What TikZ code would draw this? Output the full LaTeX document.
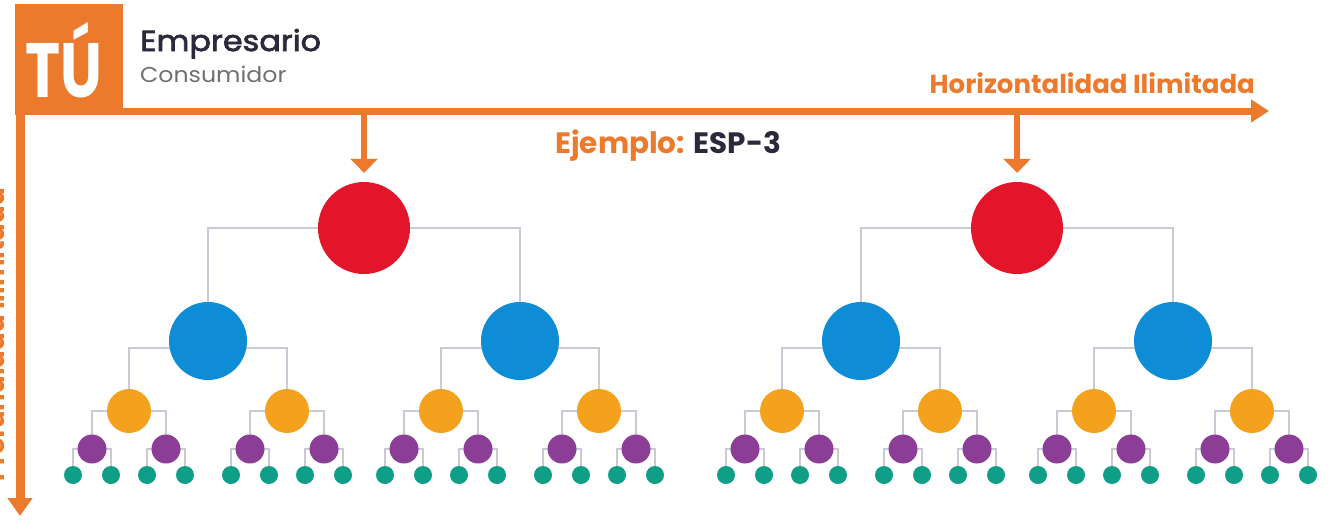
\documentclass[tikz,border=0pt]{standalone}
\usepackage{fontspec}
\setmainfont{Poppins}
\newfontfamily\popmed{Poppins}[FakeBold=2.5, FakeStretch=1.1]
\newfontfamily\popwide{Poppins}[FakeStretch=1.1]
\usetikzlibrary{arrows.meta}
\pgfdeclarelayer{back}
\pgfdeclarelayer{bg}
\pgfsetlayers{back,bg,main}
\definecolor{tuorange}{HTML}{EC7A2D}
\definecolor{navy}{HTML}{2A2A3C}
\definecolor{graytext}{HTML}{707074}
\definecolor{cred}{HTML}{E3152B}
\definecolor{cblue}{HTML}{0E8CD5}
\definecolor{cyell}{HTML}{F4A11D}
\definecolor{cpurp}{HTML}{8C3E97}
\definecolor{cteal}{HTML}{0F9F89}
\definecolor{conncol}{HTML}{CACAD5}
\tikzset{
  dot/.style={circle, inner sep=0pt, draw=none},
  rootc/.style={dot, fill=cred, minimum size=92pt},
  bluec/.style={dot, fill=cblue, minimum size=78pt},
  yellc/.style={dot, fill=cyell, minimum size=44pt},
  purpc/.style={dot, fill=cpurp, minimum size=29pt},
  tealc/.style={dot, fill=cteal, minimum size=18pt},
  conn/.style={draw=conncol, line width=#1},
  axisline/.style={draw=tuorange, line width=7pt, -{Triangle[length=18pt,width=22pt]}},
  droparrow/.style={draw=tuorange, line width=5.5pt, -{Triangle[length=14pt,width=27pt]}},
  boldlabel/.style={font=\bfseries\fontsize{26}{30}\selectfont, text=tuorange, inner sep=0pt},
}
\begin{document}
\begin{tikzpicture}[x=1pt,y=-1pt]
\useasboundingbox (0,0) rectangle (1331,528);
\begin{pgfonlayer}{back}
\fill[white] (0,0) rectangle (1331,528);
\end{pgfonlayer}
% TU box
\node[fill=tuorange, minimum width=108pt, minimum height=108pt, inner sep=0pt, anchor=north west] (tu) at (15,4) {};
\node[anchor=base west, inner sep=0pt, text=white, font=\bfseries\fontsize{77}{77}\selectfont] (tutext) at (25,97) {\scalebox{0.77}[1]{TÚ}};
\node[anchor=base west, inner sep=0pt, text=navy, font=\popmed\fontsize{29}{32}\selectfont] (emp) at (140,51) {Empresario};
\node[anchor=base west, inner sep=0pt, text=graytext, font=\popwide\fontsize{21.5}{25}\selectfont] (cons) at (140,82) {Consumidor};
% axes
\coordinate (hstart) at (15,111);
\coordinate (hend) at (1269,111);
\coordinate (vstart) at (20,100);
\coordinate (vend) at (20,516);
\draw[axisline] (hstart) -- (hend);
\draw[axisline, line width=9pt, -{Triangle[length=18pt,width=24pt]}] (vstart) -- (vend);
\node[boldlabel, anchor=base east] (hlabel) at (1255,93) {Horizontalidad Ilimitada};
\node[boldlabel, anchor=base, rotate=90] (vlabel) at (5,335) {Profundidad Ilimitada};
\node[boldlabel, anchor=base west, font=\bfseries\fontsize{29.5}{32}\selectfont] (ejemplo) at (555,153) {Ejemplo: \textcolor{navy}{ESP-3}};
% trees
\foreach \t/\rx in {L/364,R/1017}{
  \node[rootc] (\t) at (\rx,228) {};
  \draw[droparrow] (\t |- hstart) -- ([yshift=9pt]\t.north);
  \foreach \a/\da in {1/-1,2/1}{
    \pgfmathsetmacro\xa{\rx+\da*156}
    \node[bluec] (\t\a) at (\xa,341) {};
    \begin{pgfonlayer}{bg}\draw[conn=2.5pt] (\t.center) -| (\t\a.center);\end{pgfonlayer}
    \foreach \b/\db in {1/-1,2/1}{
      \pgfmathsetmacro\xb{\xa+\db*79}
      \node[yellc] (\t\a\b) at (\xb,411) {};
      \begin{pgfonlayer}{bg}\draw[conn=2.2pt] ([yshift=-7pt]\t\a.center) -| (\t\a\b.center);\end{pgfonlayer}
      \foreach \c/\dc in {1/-1,2/1}{
        \pgfmathsetmacro\xc{\xb+\dc*37}
        \node[purpc] (\t\a\b\c) at (\xc,449) {};
        \begin{pgfonlayer}{bg}\draw[conn=2pt] (\t\a\b.center) -| (\t\a\b\c.center);\end{pgfonlayer}
        \foreach \d/\dd in {1/-1,2/1}{
          \pgfmathsetmacro\xd{\xc+\dd*19}
          \node[tealc] (\t\a\b\c\d) at (\xd,475) {};
          \begin{pgfonlayer}{bg}\draw[conn=1.7pt] (\t\a\b\c.center) -| (\t\a\b\c\d.center);\end{pgfonlayer}
        }
      }
    }
  }
}
\end{tikzpicture}
\end{document}
